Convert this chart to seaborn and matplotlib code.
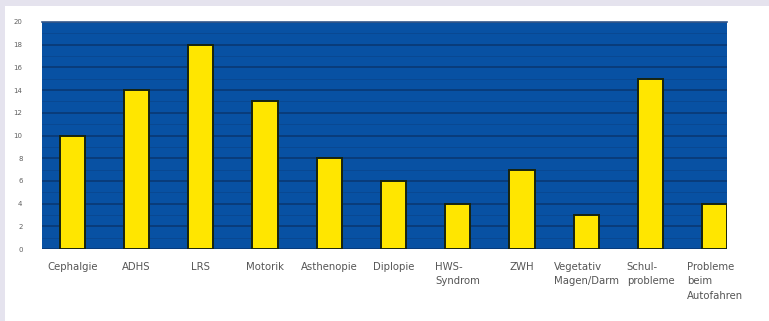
import matplotlib
matplotlib.use("Agg")
import matplotlib.pyplot as plt
import seaborn as sns
import pandas as pd
from matplotlib.patches import Rectangle

# Symptom categories and counts
categories = [
    "Cephalgie", "ADHS", "LRS", "Motorik", "Asthenopie", "Diplopie",
    "HWS-\nSyndrom", "ZWH", "Vegetativ\nMagen/Darm", "Schul-\nprobleme",
    "Probleme\nbeim\nAutofahren",
]
counts = [10, 14, 18, 13, 8, 6, 4, 7, 3, 15, 4]
y_ticks = list(range(0, 21, 2))

df = pd.DataFrame({"Kategorie": categories, "Anzahl": counts})

sns.set_theme(style="white")
plt.rcParams["font.family"] = ["DejaVu Sans"]

W, H = 769, 321
fig = plt.figure(figsize=(W / 100, H / 100), dpi=100, facecolor="#e5e3ee")

# white inner panel behind the chart
fig.patches.append(Rectangle((5 / W, 0), 1 - 5 / W, (H - 6) / H,
                             transform=fig.transFigure, facecolor="white",
                             edgecolor="none", zorder=-10))

left, right, top, bottom = 42, 727, 22, 249
ax = fig.add_axes([left / W, (H - bottom) / H, (right - left) / W, (bottom - top) / H])
ax.set_zorder(5)
ax.set_facecolor("#0851a3")

sns.barplot(data=df, x="Kategorie", y="Anzahl", color="#ffe600",
            saturation=1, edgecolor="#17230f", linewidth=1.4, width=0.39,
            ax=ax, zorder=3)

ax.set_xlim(-0.47, 10.19)
ax.set_ylim(0, 20)
ax.set_yticks(y_ticks)
ax.set_yticks(range(1, 20, 2), minor=True)
ax.set_yticklabels([str(v) for v in y_ticks], fontsize=5, color="#606060")
ax.yaxis.grid(True, which="major", color="#0a366f", linewidth=1.1, zorder=1)
ax.yaxis.grid(True, which="minor", color="#0a478f", linewidth=0.6, zorder=1)
ax.set_axisbelow(True)

ax.set_xlabel("")
ax.set_ylabel("")
ax.tick_params(axis="y", which="both", length=0, pad=14)
ax.tick_params(axis="x", length=0, pad=9)
for lab in ax.get_xticklabels():
    lab.set_fontsize(7.3)
    lab.set_color("#555555")
    lab.set_verticalalignment("top")
    lab.set_multialignment("left")
    lab.set_linespacing(1.6)

for side in ["left", "right", "bottom"]:
    ax.spines[side].set_visible(False)
ax.spines["top"].set_color("#35598d")
ax.spines["top"].set_linewidth(1.2)

fig.savefig("out.png", dpi=100, facecolor=fig.get_facecolor())
